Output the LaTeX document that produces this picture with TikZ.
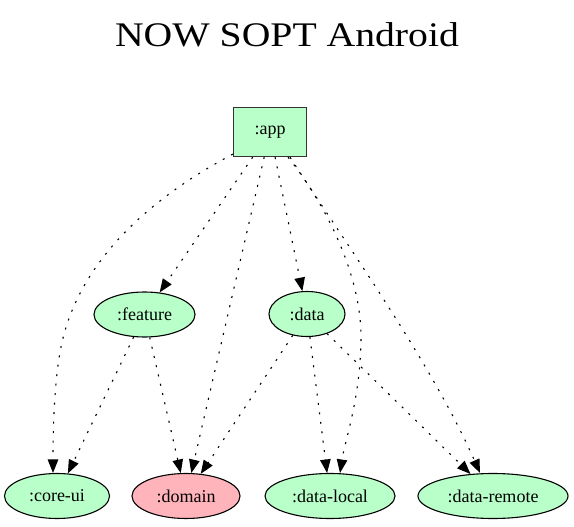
\documentclass[tikz,border=0pt]{standalone}
\usepackage{graphicx}
\usepackage{fontspec}
\setmainfont{Liberation Serif}
\usetikzlibrary{arrows.meta,shapes.geometric}
\definecolor{modgreen}{HTML}{B9FFC9}
\definecolor{modpink}{HTML}{FFB3BA}
\definecolor{boxedge}{HTML}{333333}
\tikzset{
  modell/.style={ellipse, draw=black, line width=1.1pt, fill=modgreen, inner sep=0pt,
                 minimum height=45pt, font=\fontsize{18}{21}\selectfont},
  modbox/.style={rectangle, draw=boxedge, line width=1.2pt, fill=modgreen, inner sep=0pt,
                 minimum width=73pt, minimum height=49pt, font=\fontsize{18}{21}\selectfont},
  dep/.style={line width=1.1pt, dash pattern=on 2pt off 7.5pt,
              -{Triangle[length=13.5pt,width=10.5pt]}},
}
\begin{document}
\begin{tikzpicture}[x=1pt,y=-1pt]
\useasboundingbox[fill=white] (0,0) rectangle (574,527);
\node[anchor=base, font=\fontsize{34.5}{40}\selectfont] (title) at (287,47) {\scalebox{1.15}[1]{NOW SOPT Android}};

\node[modbox] (app) at (270,132) {:app};
\node[modell, minimum width=101pt] (feature) at (144.5,314.5) {:feature};
\node[modell, minimum width=76pt] (data) at (307,314) {:data};
\node[modell, minimum width=105pt] (coreui) at (57,496) {:core-ui};
\node[modell, minimum width=108pt, fill=modpink] (domain) at (186,496) {:domain};
\node[modell, minimum width=130pt] (datalocal) at (330,496) {:data-local};
\node[modell, minimum width=150pt] (dataremote) at (493,496) {:data-remote};

% app dependencies
\draw[dep] ([yshift=3pt]app.south west) .. controls (165,190) and (85,250) .. (63,338)
           .. controls (55,370) and (53,420) .. ([xshift=-4pt]coreui.north);
\draw[dep] (app) -- (feature);
\draw[dep] (app) -- (domain);
\draw[dep] (app) -- (data);
\draw[dep] ([xshift=18pt]app.south) .. controls (330,210) and (362,280) .. (361,340)
           .. controls (360,400) and (345,440) .. ([xshift=10pt]datalocal.north);
\draw[dep] ([xshift=20pt]app.south) .. controls (340,235) and (430,360) .. ([xshift=-13pt]dataremote.north);

% feature dependencies
\draw[dep] (feature) -- (coreui);
\draw[dep] (feature) -- (domain);

% data dependencies
\draw[dep] (data) -- (domain);
\draw[dep] (data) -- (datalocal);
\draw[dep] (data) -- (dataremote);
\end{tikzpicture}
\end{document}
